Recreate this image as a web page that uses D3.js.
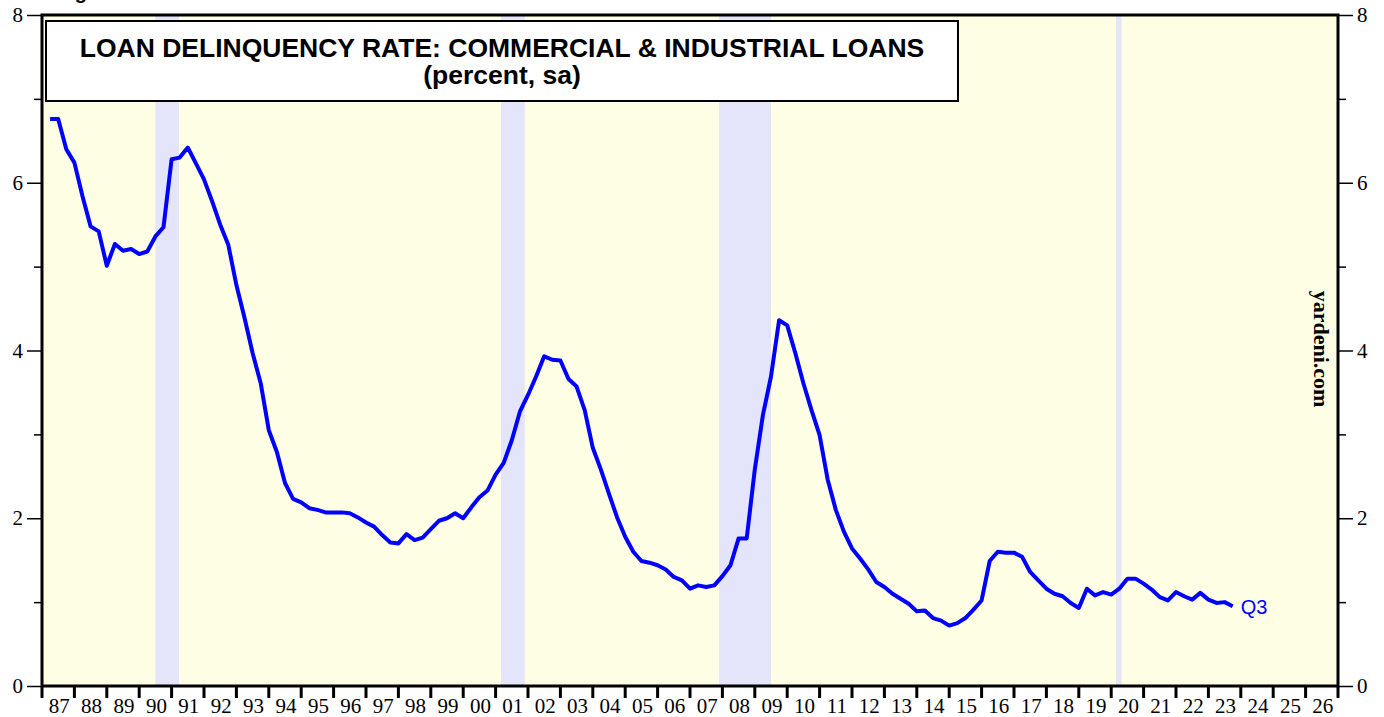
<!DOCTYPE html>
<html>
<head>
<meta charset="utf-8">
<script src="https://cdn.jsdelivr.net/npm/d3@7"></script>
<style>
  body { margin: 0; background: #fff; }
  svg { display: block; }
</style>
</head>
<body>
<svg id="chart" width="1384" height="717"></svg>
<script>
// C&I loan delinquency rate, quarterly from 1987 Q1 to 2023 Q3 (percent, sa)
const startYear = 1987;
const rates = [
    6.76, 6.76, 6.40, 6.24, 5.84, 5.48, 5.42, 5.01,   // 87-88
    5.27, 5.19, 5.21, 5.15, 5.18, 5.36, 5.47, 6.28,   // 89-90
    6.30, 6.42, 6.23, 6.04, 5.78, 5.50, 5.26, 4.78,   // 91-92
    4.39, 3.97, 3.61, 3.05, 2.79, 2.42, 2.23, 2.19,   // 93-94
    2.12, 2.10, 2.07, 2.07, 2.07, 2.06, 2.01, 1.95,   // 95-96
    1.90, 1.80, 1.71, 1.70, 1.81, 1.74, 1.77, 1.87,   // 97-98
    1.97, 2.00, 2.06, 2.00, 2.13, 2.25, 2.33, 2.52,   // 99-00
    2.66, 2.93, 3.27, 3.47, 3.69, 3.93, 3.89, 3.88,   // 01-02
    3.66, 3.57, 3.29, 2.84, 2.58, 2.29, 2.01, 1.78,   // 03-04
    1.60, 1.49, 1.47, 1.44, 1.39, 1.30, 1.26, 1.16,   // 05-06
    1.20, 1.18, 1.20, 1.31, 1.44, 1.76, 1.76, 2.58,   // 07-08
    3.23, 3.69, 4.36, 4.30, 3.97, 3.61, 3.29, 2.99,   // 09-10
    2.46, 2.10, 1.84, 1.64, 1.52, 1.39, 1.24, 1.18,   // 11-12
    1.10, 1.04, 0.98, 0.89, 0.90, 0.81, 0.78, 0.72,   // 13-14
    0.75, 0.81, 0.91, 1.02, 1.49, 1.60, 1.59, 1.59,   // 15-16
    1.54, 1.36, 1.26, 1.16, 1.10, 1.07, 0.99, 0.93,   // 17-18
    1.16, 1.08, 1.12, 1.09, 1.16, 1.28, 1.28, 1.22,   // 19-20
    1.15, 1.06, 1.02, 1.12, 1.07, 1.03, 1.11, 1.03,   // 21-22
    0.99, 1.00, 0.95                                  // 23
];

// recession bands (decimal years)
const recessions = [
    [1990.5, 1991.23],
    [2001.17, 2001.9],
    [2007.9, 2009.5],
    [2020.15, 2020.32]
];

const yearLabels = ["87","88","89","90","91","92","93","94","95","96","97","98","99",
    "00","01","02","03","04","05","06","07","08","09","10","11","12","13","14","15",
    "16","17","18","19","20","21","22","23","24","25","26"];
const majorTicks = [0, 2, 4, 6, 8];
const minorTicks = [1, 3, 5, 7];

const titleLines = ["LOAN DELINQUENCY RATE: COMMERCIAL & INDUSTRIAL LOANS", "(percent, sa)"];
const lastLabel = "Q3";

const BG = "#fefee4";
const BAND = "#e4e4fb";
const LINE = "#0000ff";

const svg = d3.select("#chart");
const plotL = 42, plotR = 1338, plotT = 15, plotB = 686;

const xscale = d3.scaleLinear().domain([1987, 2027]).range([plotL, plotR]);
const yscale = d3.scaleLinear().domain([0, 8]).range([plotB, plotT]);

// heading above the chart, only its descenders show
svg.append("text")
    .attr("x", 57).attr("y", -1)
    .style("font-family", "Arial, 'Liberation Sans', sans-serif")
    .style("font-weight", "bold")
    .style("font-size", "20px")
    .text("Figure");

// plot background
svg.append("rect")
    .attr("x", plotL).attr("y", plotT)
    .attr("width", plotR - plotL).attr("height", plotB - plotT)
    .attr("fill", BG);

svg.selectAll(".band").data(recessions).join("rect")
    .attr("class", "band")
    .attr("x", d => xscale(d[0]))
    .attr("y", plotT)
    .attr("width", d => xscale(d[1]) - xscale(d[0]))
    .attr("height", plotB - plotT)
    .attr("fill", BAND);

// y axes (major with labels, minor without)
const tickFont = "'Liberation Serif', 'Times New Roman', serif";
function yAxis(axisFn, xpos, ticks, size, labels) {
    const g = svg.append("g")
        .attr("transform", `translate(${xpos},0)`)
        .call(axisFn(yscale).tickValues(ticks).tickSize(size).tickPadding(4)
            .tickFormat(labels ? d3.format("d") : () => ""));
    g.select(".domain").remove();
    g.selectAll("line").attr("stroke", "#000").attr("stroke-width", 1.5);
    g.selectAll("text")
        .style("font-family", tickFont)
        .style("font-size", "21px")
        .attr("fill", "#000");
    return g;
}
yAxis(d3.axisLeft, plotL, majorTicks, 15, true);
yAxis(d3.axisLeft, plotL, minorTicks, 8, false);
yAxis(d3.axisRight, plotR, majorTicks, 15, true);
yAxis(d3.axisRight, plotR, minorTicks, 8, false);

// x axis: year ticks below, labels centred in each year
const years = d3.range(1987, 2028);
svg.selectAll(".xtick").data(years).join("line")
    .attr("class", "xtick")
    .attr("x1", d => xscale(d)).attr("x2", d => xscale(d))
    .attr("y1", plotB).attr("y2", plotB + 12)
    .attr("stroke", "#000").attr("stroke-width", 3);
svg.selectAll(".xlabel").data(yearLabels).join("text")
    .attr("class", "xlabel")
    .attr("x", (d, i) => xscale(1987 + i + 0.5) + 1)
    .attr("y", 713)
    .attr("text-anchor", "middle")
    .style("font-family", tickFont)
    .style("font-size", "21px")
    .text(d => d);

// series line, each quarter plotted at its end
const series = rates.map((v, i) => ({ t: startYear + (i + 1) * 0.25, v: v }));
const line = d3.line().x(d => xscale(d.t)).y(d => yscale(d.v));
svg.append("path")
    .datum(series)
    .attr("d", line)
    .attr("fill", "none")
    .attr("stroke", LINE)
    .attr("stroke-width", 4)
    .attr("stroke-linejoin", "round");

const last = series[series.length - 1];
svg.append("text")
    .attr("x", xscale(last.t) + 8)
    .attr("y", yscale(last.v) + 8)
    .style("font-family", "Arial, 'Liberation Sans', sans-serif")
    .style("font-size", "20px")
    .attr("fill", LINE)
    .text(lastLabel);

// frame
svg.append("rect")
    .attr("x", plotL).attr("y", plotT)
    .attr("width", plotR - plotL).attr("height", plotB - plotT)
    .attr("fill", "none")
    .attr("stroke", "#000").attr("stroke-width", 3);

// title box
svg.append("rect")
    .attr("x", 46).attr("y", 21)
    .attr("width", 912).attr("height", 80)
    .attr("fill", "#fff")
    .attr("stroke", "#000").attr("stroke-width", 2);
svg.selectAll(".title").data(titleLines).join("text")
    .attr("class", "title")
    .attr("x", 502)
    .attr("y", (d, i) => 57 + i * 27)
    .attr("text-anchor", "middle")
    .style("font-family", "Arial, 'Liberation Sans', sans-serif")
    .style("font-weight", "bold")
    .style("font-size", "26.5px")
    .text(d => d);

// watermark
svg.append("text")
    .attr("transform", "translate(1314,349) rotate(90)")
    .attr("text-anchor", "middle")
    .style("font-family", tickFont)
    .style("font-weight", "bold")
    .style("font-size", "22px")
    .text("yardeni.com");
</script>
</body>
</html>
